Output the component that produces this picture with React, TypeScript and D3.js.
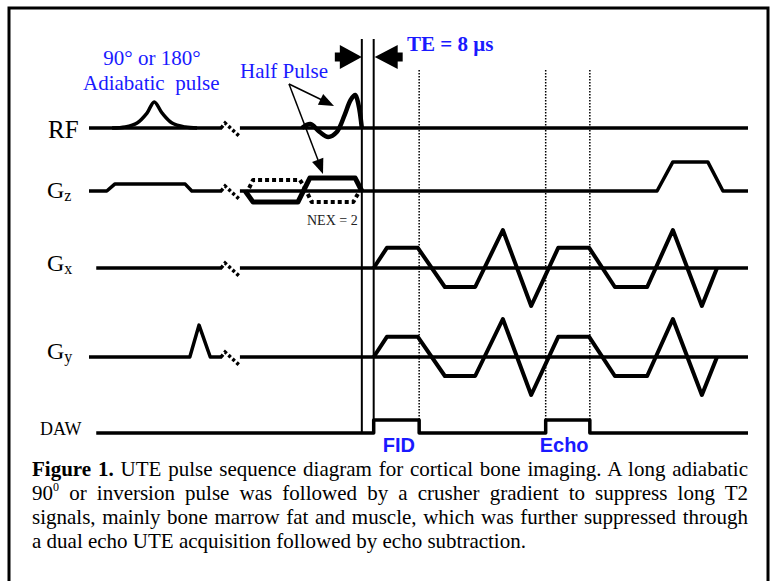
import React, { useRef, useEffect } from 'react';
import * as d3 from 'd3';

// time runs 0..100 (arbitrary units) from the left end of the lines to the right end
// amplitudes are relative to each channel's full scale (-1..1)

const rfAdiabatic = [[3.5, 0], [5.5, 0.03], [7.3, 0.15], [8.8, 0.45], [9.9, 0.79], [11.1, 0.45], [12.6, 0.15], [14.6, 0.03], [16.4, 0]];
const rfHalfPulse = [[32.3, 0], [33.6, 0.12], [35.0, -0.12], [36.3, -0.27], [37.6, -0.12], [38.8, 0.4], [39.7, 0.85], [40.4, 1.0], [40.9, 0.7], [41.4, 0]];

const gzCrusher1 = [[2.7, 0], [3.9, 0.23], [14.6, 0.23], [15.6, 0]];
const gzSliceSolid = [[23.7, 0], [24.9, -0.37], [31.7, -0.37], [33.5, 0.43], [40.4, 0.43], [41.4, 0]];
const gzSliceDotUp = [[24.3, 0.1], [24.9, 0.37], [32.0, 0.37], [32.8, 0.1]];
const gzSliceDotDown = [[33.2, -0.1], [33.8, -0.37], [40.1, -0.37], [40.8, -0.1]];
const gzCrusher2 = [[86.2, 0], [88.6, 0.97], [93.9, 0.97], [96.2, 0]];

const readout = [[43.2, 0], [45.2, 0.53], [49.9, 0.53], [54.0, -0.5], [58.6, -0.5], [62.8, 1], [67.1, -1],
  [71.2, 0.53], [75.9, 0.53], [79.8, -0.5], [84.7, -0.5], [88.6, 1], [93.0, -1], [95.3, 0]];
const gyBlip = [[15.3, 0], [16.7, 0.84], [18.4, 0]];

const dawWindows = [[43.2, 50.1], [69.3, 76.0]];
const teLines = [41.4, 43.2];
const breakAt = [20.2, 22.9];

const captionLines = [
  'UTE pulse sequence diagram for cortical bone imaging. A long adiabatic',
  'or inversion pulse was followed by a crusher gradient to suppress long T2',
  'signals, mainly bone marrow fat and muscle, which was further suppressed through',
  'a dual echo UTE acquisition followed by echo subtraction.',
];

const blue = '#1a1aff';
const serif = '"Liberation Serif", "Times New Roman", serif';
const sans = '"Liberation Sans", Arial, sans-serif';

const App = () => {
  const ref = useRef<SVGSVGElement>(null);

  const x = d3.scaleLinear().domain([0, 100]).range([89, 748]);
  const chan = (base: number, amp: number) => d3.scaleLinear().domain([-1, 1]).range([base + amp, base - amp]);
  const yRF = chan(128, 33);
  const yGz = chan(191, 30);
  const yGx = chan(268, 38);
  const yGy = chan(357, 38);
  const yDAW = chan(433, 13);

  const path = (pts: number[][], y: any, curve: any = d3.curveLinear) =>
    d3.line<number[]>().x(d => x(d[0])).y(d => y(d[1])).curve(curve)(pts) || '';

  // full waveform of a channel: baseline from start to end with pulses inserted, plus a break
  const channel = (start: number, pulses: number[][][], y: any, brk = true) => {
    const segs: number[][][] = [];
    let cur: number[][] = [[start, 0]];
    const all = pulses.slice().sort((a, b) => a[0][0] - b[0][0]);
    all.forEach(p => {
      if (brk && p[0][0] > breakAt[0] && cur[cur.length - 1][0] < breakAt[0]) {
        cur.push([breakAt[0], 0]);
        segs.push(cur);
        cur = [[breakAt[1], 0]];
      }
      cur = cur.concat(p);
    });
    if (brk && cur[cur.length - 1][0] < breakAt[0]) {
      cur.push([breakAt[0], 0]);
      segs.push(cur);
      cur = [[breakAt[1], 0]];
    }
    cur.push([100, 0]);
    segs.push(cur);
    return segs.map(s => path(s, y)).join(' ');
  };

  const breakMark = (y: any) => {
    const bx = x(breakAt[0]), b = y(0);
    return `M${bx - 1},${b} L${bx + 3},${b - 5} L${bx + 17},${b + 8}`;
  };

  const dawPts: number[][] = [[1.1, 0]];
  dawWindows.forEach(([a, b]) => { dawPts.push([a, 0], [a, 1], [b, 1], [b, 0]); });
  dawPts.push([100, 0]);

  const dotted = [dawWindows[0][1], dawWindows[1][0], dawWindows[1][1]];

  useEffect(() => {
    const svg = d3.select(ref.current);
    const target = 748 - 32;
    svg.selectAll<SVGTextElement, unknown>('text.just').each(function () {
      const el = this;
      el.setAttribute('word-spacing', '0');
      const w = el.getComputedTextLength();
      const spaces = (el.textContent || '').split(' ').length - 1;
      if (spaces > 0) el.setAttribute('word-spacing', String((target - w) / spaces));
    });
  }, []);

  const arrowHead = (tx: number, ty: number, fx: number, fy: number, len = 15, half = 6) => {
    const a = Math.atan2(ty - fy, tx - fx);
    const bx = tx - len * Math.cos(a), by = ty - len * Math.sin(a);
    const px = -Math.sin(a) * half, py = Math.cos(a) * half;
    return `M${tx},${ty} L${bx + px},${by + py} L${bx - px},${by - py} Z`;
  };

  const teY = 57;
  const l1 = x(teLines[0]), l2 = x(teLines[1]);

  return (
    <svg ref={ref} width={773} height={581} style={{ position: 'absolute', left: 0, top: 0 }}>
      <rect x={0} y={0} width={773} height={581} fill="#fff" />
      <rect x={9} y={8} width={759} height={600} fill="none" stroke="#000" strokeWidth={3} />

      {/* labels */}
      <g fontFamily={serif} fill="#000">
        <text x={48} y={138} fontSize={25}>RF</text>
        <text x={47} y={198} fontSize={24}>G<tspan fontSize={16} dy={3}>z</tspan></text>
        <text x={47} y={271} fontSize={24}>G<tspan fontSize={16} dy={3}>x</tspan></text>
        <text x={47} y={359} fontSize={24}>G<tspan fontSize={16} dy={3}>y</tspan></text>
        <text x={40} y={435} fontSize={18}>DAW</text>
        <text x={307} y={225} fontSize={14} fill="#222">NEX = 2</text>
      </g>

      {/* annotations */}
      <g fontFamily={serif} fill={blue} fontSize={21}>
        <text x={152} y={65} textAnchor="middle">90° or 180°</text>
        <text x={83} y={90} style={{ whiteSpace: 'pre' }}>Adiabatic  pulse</text>
        <text x={240} y={78}>Half Pulse</text>
        <text x={407} y={51} fontWeight="bold">TE = 8 μs</text>
      </g>
      <g fontFamily={sans} fill={blue} fontSize={20} fontWeight="bold">
        <text x={x(dawWindows[0][0]) + 9} y={452}>FID</text>
        <text x={x(dawWindows[1][0]) - 6} y={452}>Echo</text>
      </g>

      {/* half pulse arrows */}
      <g stroke="#000" strokeWidth={1.5} fill="#000">
        <line x1={289} y1={84} x2={322} y2={100} />
        <path d={arrowHead(334, 106, 289, 84)} stroke="none" />
        <line x1={289} y1={84} x2={318} y2={160} />
        <path d={arrowHead(323, 174, 289, 84)} stroke="none" />
      </g>

      {/* TE markers */}
      <g stroke="#000" fill="none">
        <line x1={l1} x2={l1} y1={39} y2={yDAW(0) + 1} strokeWidth={2} />
        <line x1={l2} x2={l2} y1={39} y2={yDAW(1)} strokeWidth={2} />
      </g>
      <g fill="#000">
        <path d={`M${l1 - 27},${teY - 4.5} L${l1 - 22},${teY - 4.5} L${l1 - 22},${teY - 12} L${l1},${teY} L${l1 - 22},${teY + 12} L${l1 - 22},${teY + 4.5} L${l1 - 27},${teY + 4.5} Z`} />
        <path d={`M${l2 + 29},${teY - 4.5} L${l2 + 24},${teY - 4.5} L${l2 + 24},${teY - 12} L${l2 + 1},${teY} L${l2 + 24},${teY + 12} L${l2 + 24},${teY + 4.5} L${l2 + 29},${teY + 4.5} Z`} />
      </g>

      {/* dotted window lines */}
      <g stroke="#000" strokeWidth={1.5} strokeDasharray="1.5,1.5">
        {dotted.map((t, i) => <line key={i} x1={x(t)} x2={x(t)} y1={70} y2={yDAW(1)} />)}
      </g>

      {/* waveforms */}
      <g fill="none" stroke="#000" strokeLinejoin="round">
        <path d={channel(0, [], yRF)} strokeWidth={3.5} />
        <path d={path(rfAdiabatic, yRF, d3.curveCatmullRom)} strokeWidth={3.5} />
        <path d={path(rfHalfPulse, yRF, d3.curveCatmullRom)} strokeWidth={4.5} />

        <path d={channel(0, [gzCrusher1, gzCrusher2], yGz)} strokeWidth={3.5} />
        <path d={path(gzSliceSolid, yGz)} strokeWidth={5} />
        <path d={path(gzSliceDotUp, yGz)} strokeWidth={4} strokeDasharray="4,3" />
        <path d={path(gzSliceDotDown, yGz)} strokeWidth={4} strokeDasharray="4,3" />

        <path d={channel(1.1, [], yGx)} strokeWidth={3.5} />
        <path d={path(readout, yGx)} strokeWidth={4} />

        <path d={channel(0, [gyBlip], yGy)} strokeWidth={3.5} />
        <path d={path(readout, yGy)} strokeWidth={4} />

        <path d={path(dawPts, yDAW)} strokeWidth={3.5} />
      </g>

      {/* break symbols */}
      <g fill="none" stroke="#000" strokeWidth={3.5} strokeDasharray="3,2.5">
        {[yRF, yGz, yGx, yGy].map((y, i) => <path key={i} d={breakMark(y)} />)}
      </g>

      {/* caption */}
      <g fontFamily={serif} fontSize={21} fill="#000">
        <text className="just" x={32} y={476}><tspan fontWeight="bold">Figure 1.</tspan> {captionLines[0]}</text>
        <text className="just" x={32} y={500}>90<tspan fontSize={12} dy={-9}>0</tspan><tspan dy={9}> {captionLines[1]}</tspan></text>
        <text className="just" x={32} y={524}>{captionLines[2]}</text>
        <text x={32} y={548}>{captionLines[3]}</text>
      </g>
    </svg>
  );
};

export default App;
